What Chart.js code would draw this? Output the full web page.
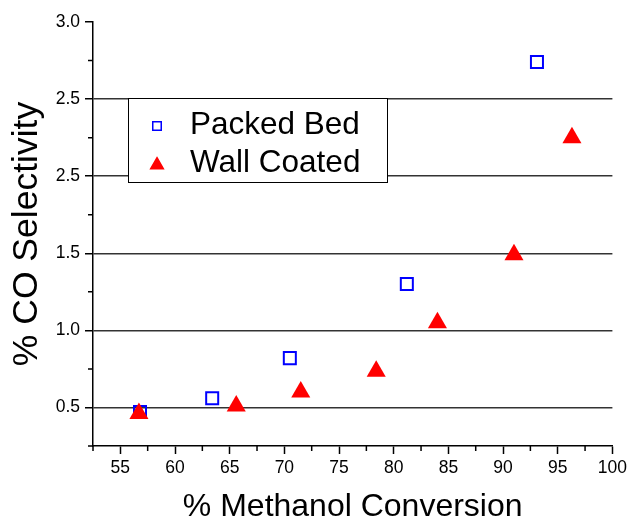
<!DOCTYPE html>
<html>
<head>
  <title>CO Selectivity vs Methanol Conversion</title>
  <style>
    body { margin: 0; background: #fff; }
    #chart-box { width: 631px; height: 522px; }
  </style>
  <script src="https://cdn.jsdelivr.net/npm/chart.js"></script>
</head>
<body>
  <div id="chart-box"><canvas id="chart"></canvas></div>
  <script>
    // datos
    const packedX = [56.8, 63.4, 70.5, 81.2, 93.1];
    const packedY = [0.47, 0.56, 0.82, 1.30, 2.74];
    const wallX = [56.7, 65.6, 71.5, 78.4, 84.0, 91.0, 96.3];
    const wallY = [0.46, 0.51, 0.60, 0.735, 1.05, 1.49, 2.25];

    const xTicks = [55, 60, 65, 70, 75, 80, 85, 90, 95, 100];
    const xMinorTicks = [52.5, 57.5, 62.5, 67.5, 72.5, 77.5, 82.5, 87.5, 92.5, 97.5];
    const yTicks = [0.5, 1.0, 1.5, 2.0, 2.5, 3.0];
    const yTickLabels = ['0.5', '1.0', '1.5', '2.5', '2.5', '3.0'];
    const yMinorTicks = [0.25, 0.75, 1.25, 1.75, 2.25, 2.75];

    const FONT = "'Liberation Sans', Arial, sans-serif";

    function toPoints(xs, ys) {
      return xs.map(function (x, i) { return { x: x, y: ys[i] }; });
    }

    // ticks menores (cortos) en los dos ejes
    const minorTicksPlugin = {
      id: 'minorTicks',
      afterDraw: function (chart) {
        const ctx = chart.ctx;
        const xs = chart.scales.x;
        const ys = chart.scales.y;
        const area = chart.chartArea;
        ctx.save();
        ctx.strokeStyle = '#000';
        ctx.lineWidth = 1.5;
        ctx.beginPath();
        xMinorTicks.forEach(function (v) {
          const px = xs.getPixelForValue(v);
          ctx.moveTo(px, area.bottom);
          ctx.lineTo(px, area.bottom + 5);
        });
        yMinorTicks.forEach(function (v) {
          const py = ys.getPixelForValue(v);
          ctx.moveTo(area.left - 5, py);
          ctx.lineTo(area.left, py);
        });
        ctx.stroke();
        ctx.restore();
      }
    };

    // leyenda dentro del area del grafico
    const boxLegendPlugin = {
      id: 'boxLegend',
      afterDatasetsDraw: function (chart) {
        const ctx = chart.ctx;
        const box = { left: 128, top: 98, right: 387, bottom: 182 };
        ctx.save();
        ctx.fillStyle = '#fff';
        ctx.fillRect(box.left, box.top, box.right - box.left, box.bottom - box.top);
        ctx.strokeStyle = '#000';
        ctx.lineWidth = 1;
        ctx.strokeRect(box.left + 0.5, box.top + 0.5, box.right - box.left, box.bottom - box.top);

        const rows = [
          { ds: chart.data.datasets[0], y: 126, radius: 6, baseY: 134 },
          { ds: chart.data.datasets[1], y: 165, radius: 7.3, baseY: 172 }
        ];
        ctx.font = '31.5px ' + FONT;
        ctx.textBaseline = 'alphabetic';
        ctx.textAlign = 'left';
        rows.forEach(function (r) {
          ctx.fillStyle = r.ds.backgroundColor;
          ctx.strokeStyle = r.ds.borderColor;
          ctx.lineWidth = 1.5;
          Chart.helpers.drawPoint(ctx, {
            pointStyle: r.ds.pointStyle,
            radius: r.radius,
            rotation: 0,
            borderWidth: 1.5
          }, 157, r.y);
          ctx.fillStyle = '#000';
          ctx.fillText(r.ds.label, 190, r.baseY);
        });
        ctx.restore();
      }
    };

    new Chart(document.getElementById('chart'), {
      type: 'scatter',
      data: {
        datasets: [
          {
            label: 'Packed Bed',
            data: toPoints(packedX, packedY),
            pointStyle: 'rect',
            pointRadius: 8.5,
            borderWidth: 2,
            borderColor: '#0000ff',
            backgroundColor: 'rgba(0,0,0,0)',
            order: 1
          },
          {
            label: 'Wall Coated',
            data: toPoints(wallX, wallY),
            pointStyle: 'triangle',
            pointRadius: 11,
            borderWidth: 0,
            borderColor: '#ff0000',
            backgroundColor: '#ff0000',
            order: 0
          }
        ]
      },
      options: {
        responsive: true,
        maintainAspectRatio: false,
        animation: false,
        layout: { padding: { left: 0, right: 17, top: 22, bottom: 0 } },
        plugins: {
          legend: { display: false },
          tooltip: { enabled: false }
        },
        scales: {
          x: {
            type: 'linear',
            min: 52.5,
            max: 100,
            afterBuildTicks: function (scale) {
              scale.ticks = xTicks.map(function (v) { return { value: v }; });
            },
            afterFit: function (scale) { scale.height = 76; },
            grid: {
              drawOnChartArea: false,
              tickLength: 8,
              tickColor: '#000',
              tickWidth: 1.5
            },
            border: { color: '#000', width: 1.5 },
            ticks: {
              color: '#000',
              padding: 4,
              maxRotation: 0,
              font: { family: FONT, size: 17.5 }
            },
            title: {
              display: true,
              text: '% Methanol Conversion',
              color: '#000',
              font: { family: FONT, size: 32, lineHeight: 1 },
              padding: { top: 0, bottom: -1 }
            }
          },
          y: {
            type: 'linear',
            min: 0.25,
            max: 3.0,
            afterBuildTicks: function (scale) {
              scale.ticks = yTicks.map(function (v) { return { value: v }; });
            },
            afterFit: function (scale) { scale.width = 93; },
            grid: {
              drawOnChartArea: true,
              color: function (c) {
                return c.tick && c.tick.value >= 3 ? 'rgba(0,0,0,0)' : '#333';
              },
              lineWidth: 1.5,
              tickLength: 8,
              tickColor: '#000',
              tickWidth: 1.5
            },
            border: { color: '#000', width: 1.5 },
            ticks: {
              color: '#000',
              padding: 5,
              font: { family: FONT, size: 17.5 },
              callback: function (value, index) { return yTickLabels[index]; }
            },
            title: {
              display: true,
              text: '% CO Selectivity',
              color: '#000',
              font: { family: FONT, size: 35.5, lineHeight: 1.2 },
              padding: { top: 6, bottom: 0 }
            }
          }
        }
      },
      plugins: [minorTicksPlugin, boxLegendPlugin]
    });
  </script>
</body>
</html>
